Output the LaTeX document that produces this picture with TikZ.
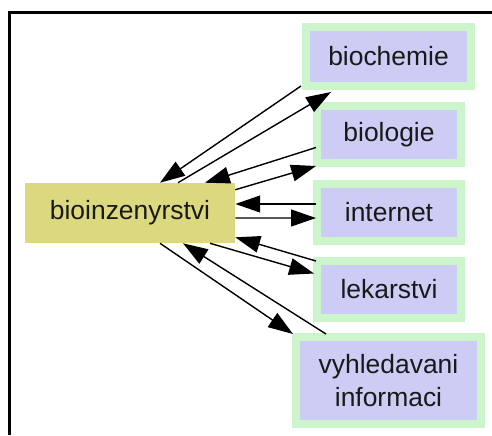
\documentclass[tikz,border=0pt]{standalone}
\usepackage{fontspec}
\setmainfont{Liberation Sans}
\usepackage{tikz}
\usetikzlibrary{calc,arrows.meta}
\definecolor{khaki}{RGB}{220,216,128}
\definecolor{lavender}{RGB}{204,204,245}
\definecolor{mint}{RGB}{204,245,204}
\begin{document}
\begin{tikzpicture}[x=0.025cm,y=-0.025cm,
      topic/.style={draw=mint,line width=0.2cm,fill=lavender,minimum width=3.6cm,minimum height=1.425cm,inner sep=0pt,font=\fontsize{18.8}{23}\selectfont,text=black!90},
      link/.style={line width=1pt,-{Triangle[length=0.62cm,width=0.42cm]}}]
              \useasboundingbox (0,0) rectangle (492,435);
              \draw[line width=0.075cm] (9.5,435) -- (9.5,12.5) -- (492,12.5);
              \node[fill=khaki,minimum width=5.25cm,minimum height=1.5cm,inner sep=0pt,font=\fontsize{18.8}{23}\selectfont,text=black!90](bio)at(130,213){bioinzenyrstvi};
              \node[topic,minimum width=4.125cm,minimum height=1.475cm](bch)at(388.5,56.5){biochemie};
              \node[topic](bgl)at(389,134.5){biologie};
              \node[topic](int)at(389,212.5){internet};
              \node[topic](lek)at(389,289.5){lekarstvi};
              \node[topic,align=center,minimum width=4.625cm,minimum height=2.175cm](vyh)at(388.5,380.5){vyhledavani\\informaci};
              \draw[link]($(bch.south west)+(-1,-4)$)--($(bio.north)+(30,0)$);
              \draw[link]($(bio.north)+(48,0)$)--($(bch.south west)+(29,2)$);
              \draw[link]($(bgl.west)+(3,13)$)--($(bio.north)+(75,0)$);
              \draw[link]($(bio.north east)+(0,7)$)--($(bgl.south west)+(3,-1)$);
              \draw[link]($(int.west)+(3,-8.5)$)--($(bio.east)+(0,-9)$);
              \draw[link]($(bio.east)+(0,5)$)--($(int.west)+(3,5.5)$);
              \draw[link]($(lek.north west)+(3,4)$)--($(bio.south east)+(0,-6)$);
              \draw[link]($(bio.south)+(80,0)$)--($(lek.west)+(1,-16)$);
              \draw[link]($(bio.south)+(30,0)$)--($(vyh.north west)+(1,1)$);
              \draw[link]($(vyh.north west)+(34,1)$)--($(bio.south)+(53,0)$);
            \end{tikzpicture}
\end{document}
